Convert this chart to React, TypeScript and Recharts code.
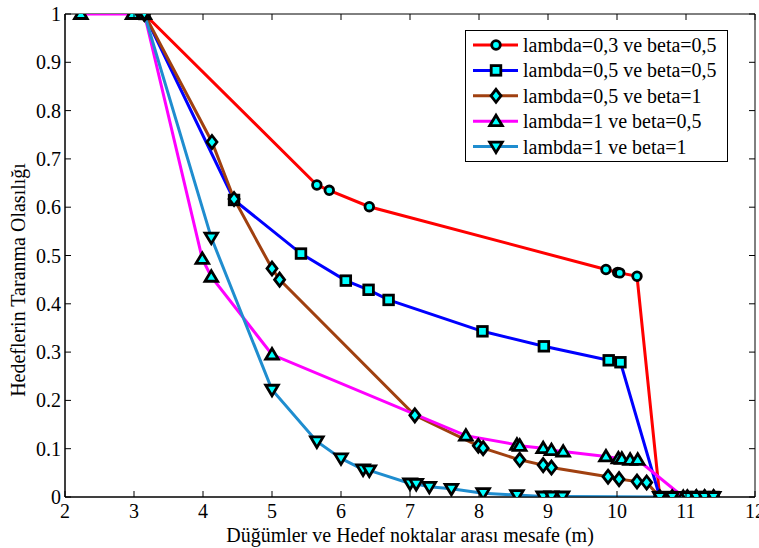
import React from 'react';
import { LineChart, Line, XAxis, YAxis, ReferenceArea, Legend } from 'recharts';

const xTicks = [2, 3, 4, 5, 6, 7, 8, 9, 10, 11, 12];
const yTicks = [0, 0.1, 0.2, 0.3, 0.4, 0.5, 0.6, 0.7, 0.8, 0.9, 1];
const yTickLabels = ['0', '0.1', '0.2', '0.3', '0.4', '0.5', '0.6', '0.7', '0.8', '0.9', '1'];

const seriesNames = [
  'lambda=0,3 ve beta=0,5',
  'lambda=0,5 ve beta=0,5',
  'lambda=0,5 ve beta=1',
  'lambda=1 ve beta=0,5',
  'lambda=1 ve beta=1',
];

const s1x = [3.15, 5.65, 5.83, 6.41, 9.84, 10.01, 10.04, 10.29, 10.62, 10.8, 11.02, 11.15, 11.27, 11.4];
const s1y = [1, 0.646, 0.635, 0.601, 0.471, 0.465, 0.464, 0.457, 0, 0, 0, 0, 0, 0];

const s2x = [3.15, 4.45, 5.42, 6.07, 6.4, 6.69, 8.05, 8.94, 9.88, 10.05, 10.62, 10.8, 11.02, 11.15, 11.27, 11.4];
const s2y = [1, 0.615, 0.504, 0.448, 0.429, 0.408, 0.343, 0.312, 0.283, 0.279, 0, 0, 0, 0, 0, 0];

const s3x = [3.15, 4.13, 4.45, 5.0, 5.11, 7.07, 7.99, 8.06, 8.59, 8.93, 9.05, 9.87, 10.03, 10.29, 10.43, 10.62, 10.8, 11.02, 11.15, 11.27, 11.4];
const s3y = [1, 0.735, 0.617, 0.473, 0.45, 0.169, 0.106, 0.101, 0.077, 0.066, 0.061, 0.042, 0.037, 0.032, 0.03, 0, 0, 0, 0, 0, 0];

const s4x = [2.23, 2.98, 3.15, 3.99, 4.12, 5.0, 7.81, 8.55, 8.59, 8.93, 9.05, 9.22, 9.84, 10.02, 10.07, 10.19, 10.3, 10.96, 11.15, 11.27, 11.4];
const s4y = [1, 1, 1, 0.493, 0.456, 0.295, 0.127, 0.108, 0.106, 0.101, 0.097, 0.094, 0.084, 0.08, 0.079, 0.077, 0.077, 0, 0, 0, 0];

const s5x = [3.15, 4.12, 5.0, 5.65, 6.0, 6.32, 6.41, 7.0, 7.09, 7.28, 7.6, 8.06, 8.55, 8.93, 9.05, 9.21, 10.62, 10.8, 11.02, 11.15, 11.27, 11.4];
const s5y = [1, 0.537, 0.222, 0.115, 0.08, 0.057, 0.055, 0.028, 0.027, 0.021, 0.017, 0.008, 0.004, 0.001, 0.001, 0.001, 0, 0, 0, 0, 0, 0];

const toData = (xs: number[], ys: number[]) => xs.map((x, i) => ({ x, y: ys[i] }));

const series = [
  { name: seriesNames[0], data: toData(s1x, s1y), color: '#FF0000', shape: 'circle' },
  { name: seriesNames[1], data: toData(s2x, s2y), color: '#0000FF', shape: 'square' },
  { name: seriesNames[2], data: toData(s3x, s3y), color: '#A04010', shape: 'diamond' },
  { name: seriesNames[3], data: toData(s4x, s4y), color: '#FF00FF', shape: 'up' },
  { name: seriesNames[4], data: toData(s5x, s5y), color: '#1F8DCF', shape: 'down' },
];

const W = 759;
const H = 548;
const PLOT_LEFT = 65;
const PLOT_TOP = 14;
const PLOT_RIGHT = 755;
const PLOT_BOTTOM = 497;
const FONT = '"Liberation Serif", "Times New Roman", Times, serif';
const TICK = 6;

function Marker({ shape, cx, cy }: { shape: string; cx: number; cy: number }) {
  const p = { fill: '#00FFFF', stroke: '#000', strokeWidth: 2.8, strokeLinejoin: 'miter' as const };
  switch (shape) {
    case 'circle':
      return <circle cx={cx} cy={cy} r={4.3} {...p} />;
    case 'square':
      return <rect x={cx - 4.8} y={cy - 4.8} width={9.6} height={9.6} {...p} />;
    case 'diamond':
      return <polygon points={`${cx},${cy - 6.5} ${cx + 5},${cy} ${cx},${cy + 6.5} ${cx - 5},${cy}`} {...p} />;
    case 'up':
      return <polygon points={`${cx},${cy - 6} ${cx + 6.3},${cy + 4.5} ${cx - 6.3},${cy + 4.5}`} {...p} />;
    case 'down':
    default:
      return <polygon points={`${cx},${cy + 6} ${cx + 6.3},${cy - 4.5} ${cx - 6.3},${cy - 4.5}`} {...p} />;
  }
}

const XTick = (props: any) => {
  const { x, payload } = props;
  return (
    <g>
      <line x1={x} x2={x} y1={PLOT_BOTTOM} y2={PLOT_BOTTOM - TICK} stroke="#000" strokeWidth={1} />
      <line x1={x} x2={x} y1={PLOT_TOP} y2={PLOT_TOP + TICK} stroke="#000" strokeWidth={1} />
      <text x={x} y={518} textAnchor="middle" fontFamily={FONT} fontSize={20} fill="#000">
        {payload.value}
      </text>
    </g>
  );
};

const YTick = (props: any) => {
  const { y, payload, index } = props;
  return (
    <g>
      <line x1={PLOT_LEFT} x2={PLOT_LEFT + TICK} y1={y} y2={y} stroke="#000" strokeWidth={1} />
      <line x1={PLOT_RIGHT} x2={PLOT_RIGHT - TICK} y1={y} y2={y} stroke="#000" strokeWidth={1} />
      <text x={61} y={y + 7} textAnchor="end" fontFamily={FONT} fontSize={20} fill="#000">
        {yTickLabels[yTicks.indexOf(payload.value)] ?? yTickLabels[index]}
      </text>
    </g>
  );
};

const LegendBox = () => (
  <svg width={264} height={133} style={{ display: 'block' }}>
    <rect x={0.5} y={0.5} width={262} height={131} fill="#fff" stroke="#000" strokeWidth={1} />
    {series.map((s, i) => {
      const cy = 15 + i * 25.4;
      return (
        <g key={s.name}>
          <line x1={8} x2={53} y1={cy} y2={cy} stroke={s.color} strokeWidth={3} />
          <Marker shape={s.shape} cx={31} cy={cy} />
          <text x={58} y={cy + 7} fontFamily={FONT} fontSize={20} fill="#000">
            {s.name}
          </text>
        </g>
      );
    })}
  </svg>
);

export default function App() {
  return (
    <div style={{ position: 'absolute', left: 0, top: 0, width: W, height: H, background: '#fff' }}>
      <LineChart
        width={W}
        height={H}
        margin={{ top: PLOT_TOP, right: W - PLOT_RIGHT, bottom: 0, left: 0 }}
      >
        <XAxis
          type="number"
          dataKey="x"
          domain={[2, 12]}
          ticks={xTicks}
          allowDataOverflow
          height={H - PLOT_BOTTOM}
          tickLine={false}
          axisLine={{ stroke: '#000', strokeWidth: 1 }}
          tick={<XTick />}
          interval={0}
          label={{
            content: () => (
              <text x={(PLOT_LEFT + PLOT_RIGHT) / 2} y={542} textAnchor="middle" fontFamily={FONT} fontSize={20} fill="#000">
                Düğümler ve Hedef noktalar arası mesafe (m)
              </text>
            ),
          }}
        />
        <YAxis
          type="number"
          dataKey="y"
          domain={[0, 1]}
          ticks={yTicks}
          allowDataOverflow
          width={PLOT_LEFT}
          tickLine={false}
          axisLine={{ stroke: '#000', strokeWidth: 1 }}
          tick={<YTick />}
          interval={0}
          label={{
            content: () => (
              <text
                transform={`translate(25, 280) rotate(-90)`}
                textAnchor="middle"
                fontFamily={FONT}
                fontSize={20}
                fill="#000"
              >
                Hedeflerin Taranma Olasılığı
              </text>
            ),
          }}
        />
        <ReferenceArea x1={2} x2={12} y1={0} y2={1} fill="none" fillOpacity={0} stroke="#000" strokeWidth={1} ifOverflow="visible" />
        {series.map((s) => (
          <Line
            key={s.name}
            data={s.data}
            dataKey="y"
            name={s.name}
            type="linear"
            stroke={s.color}
            strokeWidth={3}
            isAnimationActive={false}
            dot={(p: any) => <Marker key={`${s.name}-${p.index}`} shape={s.shape} cx={p.cx} cy={p.cy} />}
            activeDot={false}
          />
        ))}
        <Legend
          layout="horizontal"
          verticalAlign="middle"
          align="center"
          content={() => <LegendBox />}
          wrapperStyle={{ position: 'absolute', left: 465, top: 30, width: 264, height: 133, margin: 0, padding: 0 }}
        />
      </LineChart>
    </div>
  );
}
